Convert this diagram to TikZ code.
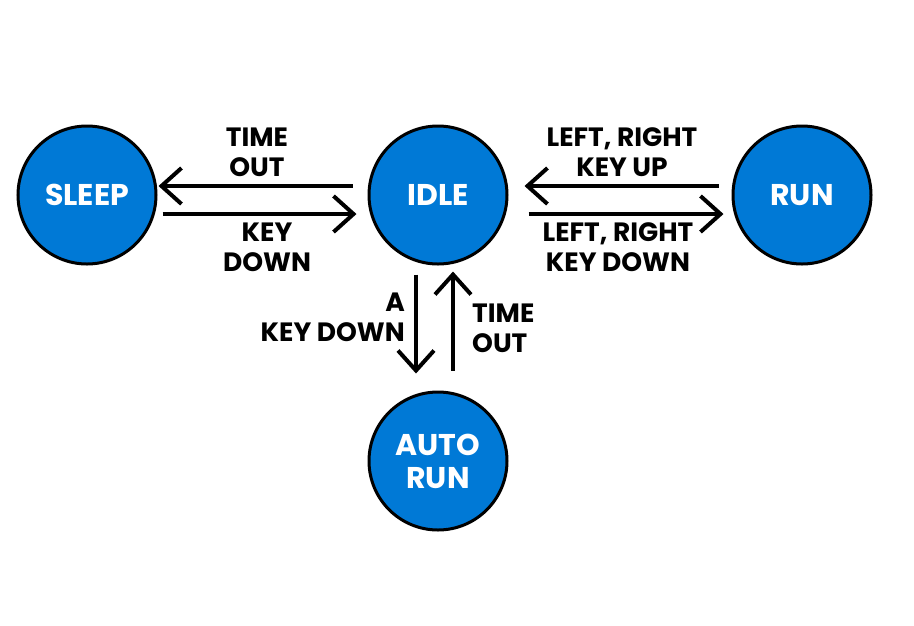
\documentclass[tikz,border=0pt]{standalone}
\usepackage{fontspec}
\setmainfont{Poppins}
\usetikzlibrary{arrows.meta}
\definecolor{stateblue}{RGB}{0,121,214}

\begin{document}
\begin{tikzpicture}[x=1pt,y=-1pt,
  state/.style={circle,draw=black,line width=3pt,fill=stateblue,minimum size=138pt,inner sep=0pt,
    text=white,align=center,font=\fontsize{30}{33}\selectfont\bfseries},
  trans/.style={-{Straight Barb[length=20pt,width=36pt]},line width=4pt},
  lbl/.style={inner sep=0pt,font=\fontsize{26.5}{30}\selectfont\bfseries}]
\useasboundingbox (0,0) rectangle (914,625);
\node[state] (sleep) at(87,195) {SLEEP};
\node[state] (idle) at(438,195) {IDLE};
\node[state] (run) at(802,195) {RUN};
\node[state] (auto) at(438,461) {AUTO\\RUN};

\draw[trans] ([shift={(-15,-9)}]idle.west) -- ([shift={(1,-9)}]sleep.east);
\draw[trans] ([shift={(5,19)}]sleep.east) -- ([shift={(-11,19)}]idle.west);
\draw[trans] ([shift={(-13,-9)}]run.west) -- ([shift={(16,-9)}]idle.east);
\draw[trans] ([shift={(20,19)}]idle.east) -- ([shift={(-8,19)}]run.west);
\draw[trans] ([shift={(-22,9)}]idle.south) -- ([shift={(-22,-17)}]auto.north);
\draw[trans] ([shift={(15,-20)}]auto.north) -- ([shift={(15,6)}]idle.south);

\node[lbl,align=center] (timeout1) at(257,152) {TIME\\OUT};
\node[lbl,align=center] (keydown1) at(267,247) {KEY\\DOWN};
\node[lbl,align=center] (keyup2) at(622,152) {LEFT, RIGHT\\KEY UP};
\node[lbl,align=center] (keydown2) at(618,247) {LEFT, RIGHT\\KEY DOWN};
\node[lbl,align=right,anchor=east] (keydown3) at(405,317) {A\\KEY DOWN};
\node[lbl,align=left,anchor=west] (timeout3) at(472,328) {TIME\\OUT};
\end{tikzpicture}
\end{document}
